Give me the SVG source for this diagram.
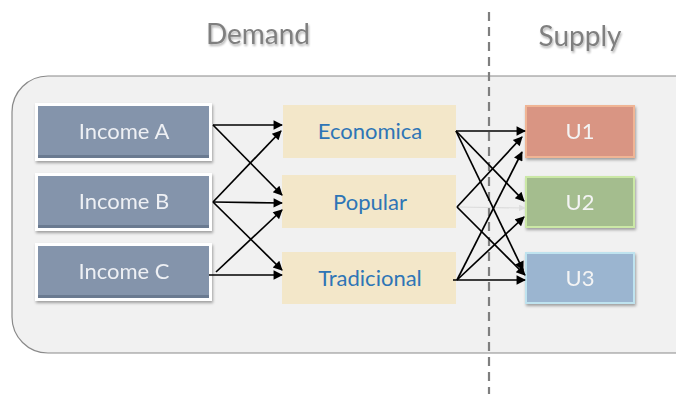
<svg xmlns="http://www.w3.org/2000/svg" width="676" height="394" viewBox="0 0 676 394">
<defs>
<style>
.title{font-family:Lato,"Open Sans","Liberation Sans",sans-serif;font-size:28px;fill:#7f7f7f;text-anchor:middle}
.inc{fill:#8494ab;stroke:#ffffff;stroke-width:3}
.inct{font-family:Lato,"Open Sans","Liberation Sans",sans-serif;font-size:22px;fill:#eef0f4;text-anchor:middle}
.mid{fill:#f3e7c9}
.midt{font-family:Lato,"Open Sans","Liberation Sans",sans-serif;font-size:22px;fill:#2e75b6;text-anchor:middle}
.ut{font-family:Lato,"Open Sans","Liberation Sans",sans-serif;font-size:22px;fill:#f4f4f4;text-anchor:middle}
.c{stroke:#000;stroke-width:1.7;fill:none;marker-end:url(#ah)}
</style>
<marker id="ah" viewBox="0 0 10 10" refX="9" refY="5" markerWidth="6.5" markerHeight="5.5" orient="auto" markerUnits="strokeWidth">
<path d="M0,0 L10,5 L0,10 z" fill="#000"/>
</marker>
<marker id="ahg" viewBox="0 0 10 10" refX="9" refY="5" markerWidth="6.5" markerHeight="5.5" orient="auto" markerUnits="strokeWidth">
<path d="M0,0 L10,5 L0,10 z" fill="#dcdcdc"/>
</marker>
<filter id="sh" x="-10%" y="-10%" width="130%" height="140%">
<feGaussianBlur in="SourceAlpha" stdDeviation="1.5"/>
<feOffset dx="1" dy="2" result="b"/>
<feComponentTransfer><feFuncA type="linear" slope="0.35"/></feComponentTransfer>
<feMerge><feMergeNode/><feMergeNode in="SourceGraphic"/></feMerge>
</filter>
<filter id="tsh" x="-10%" y="-10%" width="130%" height="140%">
<feGaussianBlur in="SourceAlpha" stdDeviation="1"/>
<feOffset dx="1" dy="1.5" result="b"/>
<feComponentTransfer><feFuncA type="linear" slope="0.3"/></feComponentTransfer>
<feMerge><feMergeNode/><feMergeNode in="SourceGraphic"/></feMerge>
</filter>
</defs>
<rect width="676" height="394" fill="#ffffff"/>

<g id="container">
<rect x="12" y="76" width="700" height="277" rx="36" ry="36" fill="#f1f1f1" stroke="#8a8a8a" stroke-width="1.2"/>
</g>

<g id="titles">
<text class="title" x="258" y="44" filter="url(#tsh)">Demand</text>
<text class="title" x="580" y="46" filter="url(#tsh)">Supply</text>
</g>

<g id="divider">
<line x1="489" y1="12" x2="489" y2="394" stroke="#7f7f7f" stroke-width="2.2" stroke-dasharray="9,6"/>
</g>

<g id="incomeA" filter="url(#sh)">
<rect class="inc" x="36.5" y="104.5" width="174" height="55"/>
<rect x="38" y="155" width="171" height="3" fill="#6b7a90"/>
<text class="inct" x="124" y="139">Income A</text>
</g>
<g id="incomeB" filter="url(#sh)">
<rect class="inc" x="36.5" y="174.5" width="174" height="55"/>
<rect x="38" y="225" width="171" height="3" fill="#6b7a90"/>
<text class="inct" x="124" y="209">Income B</text>
</g>
<g id="incomeC" filter="url(#sh)">
<rect class="inc" x="36.5" y="244.5" width="174" height="55"/>
<rect x="38" y="295" width="171" height="3" fill="#6b7a90"/>
<text class="inct" x="124" y="279">Income C</text>
</g>

<g id="economica">
<rect class="mid" x="283" y="105" width="173" height="53"/>
<text class="midt" x="370" y="139">Economica</text>
</g>
<g id="popular">
<rect class="mid" x="282" y="175" width="174" height="53"/>
<text class="midt" x="370" y="210">Popular</text>
</g>
<g id="tradicional">
<rect class="mid" x="282" y="252" width="174" height="52"/>
<text class="midt" x="370" y="286">Tradicional</text>
</g>

<g id="U1" filter="url(#sh)">
<rect x="526" y="106" width="108" height="51" fill="#d99583" stroke="#f0b595" stroke-width="2"/>
<text class="ut" x="580" y="139">U1</text>
</g>
<g id="U2" filter="url(#sh)">
<rect x="526" y="177" width="108" height="50" fill="#a4bd8e" stroke="#cbe8a6" stroke-width="2"/>
<text class="ut" x="580" y="210">U2</text>
</g>
<g id="U3" filter="url(#sh)">
<rect x="526" y="253" width="108" height="50" fill="#9bb5d0" stroke="#bfe3ef" stroke-width="2"/>
<text class="ut" x="580" y="286">U3</text>
</g>

<g id="connectors">
<line class="c" x1="213" y1="125" x2="282" y2="125"/>
<line class="c" x1="213" y1="125" x2="282" y2="195"/>
<line class="c" x1="213" y1="202" x2="281" y2="131"/>
<line class="c" x1="213" y1="202" x2="282" y2="203"/>
<line class="c" x1="213" y1="202" x2="282" y2="270"/>
<line class="c" x1="216" y1="272" x2="282" y2="210"/>
<line class="c" x1="209" y1="275" x2="282" y2="275"/>

<line x1="457" y1="207" x2="525" y2="208" stroke="#dcdcdc" stroke-width="1.2" marker-end="url(#ahg)"/>
<line class="c" x1="456" y1="131" x2="525" y2="131"/>
<line class="c" x1="456" y1="131" x2="524" y2="201"/>
<line class="c" x1="456" y1="131" x2="523" y2="270"/>
<line class="c" x1="457" y1="207" x2="522" y2="137"/>
<line class="c" x1="457" y1="207" x2="525" y2="275"/>
<line class="c" x1="457" y1="280" x2="522" y2="152"/>
<line class="c" x1="457" y1="280" x2="524" y2="217"/>
<line class="c" x1="453" y1="280" x2="525" y2="280"/>
</g>
</svg>
